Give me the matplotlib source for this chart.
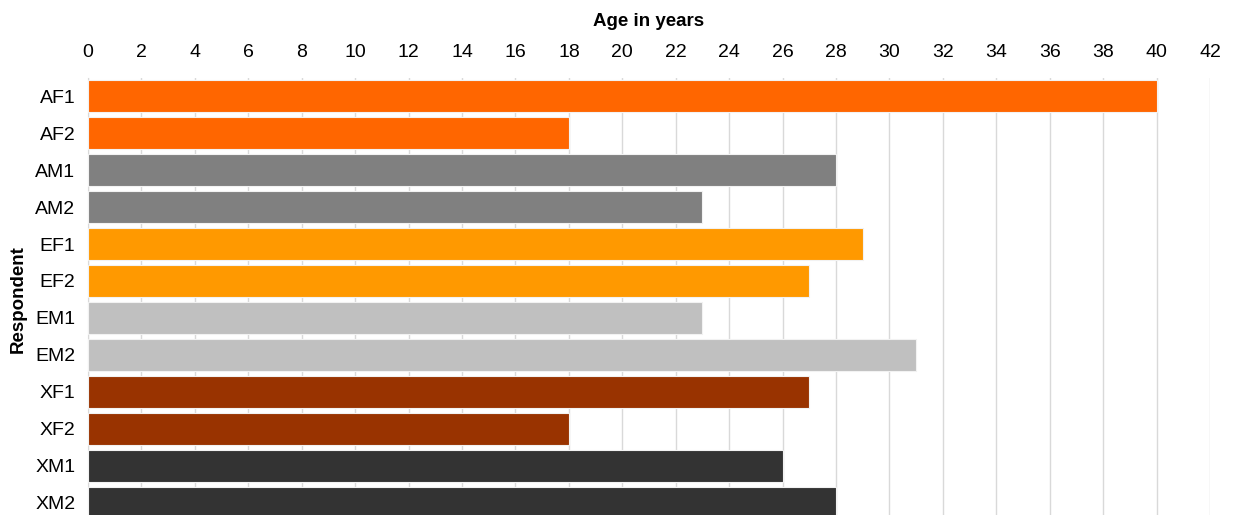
import matplotlib.pyplot as plt
import numpy as np

plt.rcParams['font.family'] = ['Liberation Sans', 'DejaVu Sans']

respondents = ['AF1', 'AF2', 'AM1', 'AM2', 'EF1', 'EF2',
               'EM1', 'EM2', 'XF1', 'XF2', 'XM1', 'XM2']
ages = [40, 18, 28, 23, 29, 27, 23, 31, 27, 18, 26, 28]
colors = ['#FF6600', '#FF6600', '#808080', '#808080', '#FF9900', '#FF9900',
          '#C0C0C0', '#C0C0C0', '#993300', '#993300', '#333333', '#333333']

fig = plt.figure(figsize=(12.36, 5.15), dpi=100)
ax = fig.add_axes([0.0712, -0.0126, 0.9078, 0.8621])

y = np.arange(len(respondents))
ax.barh(y, ages, height=0.87, color=colors, edgecolor='#f2f2f2', linewidth=0.8, zorder=3)

ax.set_xlim(0, 42)
ax.set_ylim(len(respondents) - 0.5, -0.5)
ax.set_xticks(np.arange(0, 43, 2))
ax.set_yticks(y)
ax.set_yticklabels(respondents)
ax.xaxis.tick_top()
ax.xaxis.set_label_position('top')
ax.tick_params(axis='both', length=0, labelsize=14, colors='black')
ax.tick_params(axis='x', pad=12)
ax.tick_params(axis='y', pad=9)
ax.grid(axis='x', color='#d9d9d9', linewidth=1, zorder=0)
for s in ['top', 'right', 'bottom']:
    ax.spines[s].set_visible(False)
ax.spines['left'].set_color('#d9d9d9')

ax.set_xlabel('Age in years', fontsize=13.5, fontweight='bold', labelpad=13)
ax.set_ylabel('Respondent', fontsize=13.5, fontweight='bold')
ax.yaxis.set_label_coords(-0.055, 0.5)

fig.savefig('out.png', dpi=100)
